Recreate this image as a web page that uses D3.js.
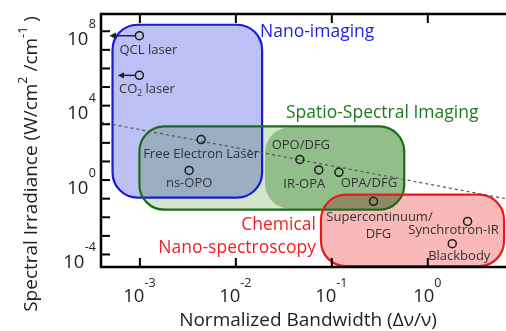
<!DOCTYPE html>
<html>
<head>
<meta charset="utf-8">
<script src="https://cdn.jsdelivr.net/npm/d3@7"></script>
<style>
body { margin: 0; background: #fff; }
text { font-family: "Open Sans", sans-serif; }
</style>
</head>
<body>
<svg id="chart" width="506" height="331"></svg>
<script>
// laser sources: bandwidth (dv/v) vs spectral irradiance (W/cm2/cm-1)
var sources = ["QCL laser", "CO2 laser", "Free Electron Laser", "ns-OPO", "OPO/DFG", "IR-OPA", "OPA/DFG", "Supercontinuum/|DFG", "Synchrotron-IR", "Blackbody"];
var bandwidth = [1e-3, 1e-3, 0.0044, 0.0033, 0.047, 0.074, 0.12, 0.275, 2.63, 1.82];
var irradiance = [5.4e7, 4e5, 141, 3.1, 12, 3.3, 2.45, 0.068, 0.0056, 3.6e-4];
// sources whose bandwidth is an upper bound (arrow to the left)
var arrowSources = ["QCL laser", "CO2 laser"];
var arrowEnd = [5e-4, 6.1e-4];

// application regions
var regionNames = ["Nano-imaging", "Spatio-Spectral Imaging", "spatio-dark", "Chemical Nano-spectroscopy"];
var regionX0 = [5.25e-4, 1e-3, 0.0204, 0.078];
var regionX1 = [0.019, 0.575, 0.575, 6.3];
var regionY0 = [0.107, 0.024, 0.027, 2.2e-5];
var regionY1 = [2.1e8, 724, 650, 0.155];

// dashed trend line
var trendX = [10 ** -3.4, 10 ** 0.82];
var trendY = [10 ** 3.08, 10 ** -1.03];

var xTickExp = [-3, -2, -1, 0];
var yTickExp = d3.range(-4, 9);
var yLabelExp = [-4, 0, 4, 8];

var svg = d3.select("#chart");
var plotLeft = 101, plotRight = 506, plotTop = 14, plotBottom = 267;

var x = d3.scaleLog().domain([10 ** -3.4, 10 ** 0.82]).range([plotLeft, plotRight]);
var y = d3.scaleLog().domain([10 ** -4.7, 10 ** 8.9]).range([plotBottom, plotTop]);

var regionFill = ["#bcc0f4", "#d3e6cc", "#b0d3ae", "#fab9b9"];
var regionStroke = ["#1b1bd3", "#1d6a1d", "none", "#ea1a1a"];

var defs = svg.append("defs");
defs.append("marker")
  .attr("id", "arrowhead")
  .attr("viewBox", "0 0 10 10")
  .attr("refX", 1).attr("refY", 5)
  .attr("markerWidth", 4.5).attr("markerHeight", 4.5)
  .attr("orient", "auto-start-reverse")
  .append("path")
  .attr("d", "M0,0 L10,5 L0,10 z")
  .attr("fill", "#222");

// region fills, multiplied so overlaps darken
var fills = svg.append("g").attr("class", "region-fills");
fills.selectAll("rect")
  .data(regionNames)
  .enter()
  .append("rect")
  .attr("x", function(d, i) { return x(regionX0[i]); })
  .attr("y", function(d, i) { return y(regionY1[i]); })
  .attr("width", function(d, i) { return x(regionX1[i]) - x(regionX0[i]); })
  .attr("height", function(d, i) { return y(regionY0[i]) - y(regionY1[i]); })
  .attr("rx", 25).attr("ry", 25)
  .attr("fill", function(d, i) { return regionFill[i]; })
  .style("mix-blend-mode", "multiply");

var strokes = svg.append("g").attr("class", "region-strokes");
strokes.selectAll("rect")
  .data(regionNames)
  .enter()
  .append("rect")
  .attr("x", function(d, i) { return x(regionX0[i]); })
  .attr("y", function(d, i) { return y(regionY1[i]); })
  .attr("width", function(d, i) { return x(regionX1[i]) - x(regionX0[i]); })
  .attr("height", function(d, i) { return y(regionY0[i]) - y(regionY1[i]); })
  .attr("rx", 25).attr("ry", 25)
  .attr("fill", "none")
  .attr("stroke", function(d, i) { return regionStroke[i]; })
  .attr("stroke-width", 2.2);

// trend line
svg.append("line")
  .attr("x1", x(trendX[0])).attr("y1", y(trendY[0]))
  .attr("x2", x(trendX[1])).attr("y2", y(trendY[1]))
  .attr("stroke", "#555")
  .attr("stroke-width", 1.2)
  .attr("stroke-dasharray", "3,3");

// region labels
var regionLabels = [
  {text: "Nano-imaging", x: 260, y: 37, anchor: "start", color: "#2323dc"},
  {text: "Spatio-Spectral Imaging", x: 286, y: 118, anchor: "start", color: "#1f7a1f"},
  {text: "Chemical", x: 316, y: 230, anchor: "end", color: "#f51e1e"},
  {text: "Nano-spectroscopy", x: 316, y: 253, anchor: "end", color: "#f51e1e"}
];
svg.append("g").selectAll("text")
  .data(regionLabels)
  .enter()
  .append("text")
  .attr("x", function(d) { return d.x; })
  .attr("y", function(d) { return d.y; })
  .attr("text-anchor", function(d) { return d.anchor; })
  .attr("fill", function(d) { return d.color; })
  .attr("font-size", "17.5px")
  .text(function(d) { return d.text; });

// arrows
svg.append("g").selectAll("line")
  .data(arrowSources)
  .enter()
  .append("line")
  .attr("x1", function(d) { return x(bandwidth[sources.indexOf(d)]) - 4; })
  .attr("x2", function(d, i) { return x(arrowEnd[i]) + 5; })
  .attr("y1", function(d) { return y(irradiance[sources.indexOf(d)]); })
  .attr("y2", function(d) { return y(irradiance[sources.indexOf(d)]); })
  .attr("stroke", "#222")
  .attr("stroke-width", 1.5)
  .attr("marker-end", "url(#arrowhead)");

// points
svg.append("g").selectAll("circle")
  .data(sources)
  .enter()
  .append("circle")
  .attr("cx", function(d, i) { return x(bandwidth[i]); })
  .attr("cy", function(d, i) { return y(irradiance[i]); })
  .attr("r", 4)
  .attr("fill", "none")
  .attr("stroke", "#1a1a1a")
  .attr("stroke-width", 1.5);

// point labels, offsets from the circle
var labelDx = [9, 7.5, 0, 0, 1, -14.5, 30, 6, -14, 7];
var labelDy = [18, 17.5, 18, 17, -10, 18, 15, 20, 12.5, 16];
var labels = svg.append("g").attr("class", "point-labels");
sources.forEach(function(name, i) {
  var t = labels.append("text")
    .attr("x", x(bandwidth[i]) + labelDx[i])
    .attr("y", y(irradiance[i]) + labelDy[i])
    .attr("text-anchor", "middle")
    .attr("font-size", "13px")
    .attr("fill", "#333");
  if (name == "CO2 laser") {
    t.append("tspan").text("CO");
    t.append("tspan").attr("font-size", "8.5px").attr("dy", 3).text("2");
    t.append("tspan").attr("dy", -3).text(" laser");
  } else if (name.indexOf("|") >= 0) {
    var parts = name.split("|");
    t.text(parts[0]);
    labels.append("text")
      .attr("x", x(bandwidth[i]) + labelDx[i] - 1)
      .attr("y", y(irradiance[i]) + labelDy[i] + 16.5)
      .attr("text-anchor", "middle")
      .attr("font-size", "13px")
      .attr("fill", "#333")
      .text(parts[1]);
  } else {
    t.text(name);
  }
});

// axes (ticks inward)
var xTicks = xTickExp.map(function(e) { return 10 ** e; });
var yTicks = yTickExp.map(function(e) { return 10 ** e; });

var xAxisB = svg.append("g")
  .attr("transform", "translate(0," + plotBottom + ")")
  .call(d3.axisBottom(x).tickValues(xTicks).tickSizeInner(-9).tickSizeOuter(0).tickFormat(""));
var xAxisT = svg.append("g")
  .attr("transform", "translate(0," + plotTop + ")")
  .call(d3.axisTop(x).tickValues(xTicks).tickSizeInner(-9).tickSizeOuter(0).tickFormat(""));
var yAxisL = svg.append("g")
  .attr("transform", "translate(" + plotLeft + ",0)")
  .call(d3.axisLeft(y).tickValues(yTicks).tickSizeInner(-9).tickSizeOuter(0).tickFormat(""));

[xAxisB, xAxisT, yAxisL].forEach(function(a) {
  a.select(".domain").attr("stroke", "#000").attr("stroke-width", 2.5);
  a.selectAll(".tick line").attr("stroke", "#000").attr("stroke-width", 2);
});
// make the frame corners meet
xAxisB.select(".domain").attr("d", "M" + (plotLeft - 1) + ",0H" + plotRight);
xAxisT.select(".domain").attr("d", "M" + (plotLeft - 1) + ",0H" + plotRight);
yAxisL.select(".domain").attr("d", "M0," + (plotTop - 1) + "V" + (plotBottom + 1));

// tick labels with superscripts
var xLab = svg.append("g").selectAll("text")
  .data(xTickExp)
  .enter()
  .append("text")
  .attr("x", function(d) { return x(10 ** d); })
  .attr("y", 302)
  .attr("text-anchor", "middle")
  .attr("font-size", "18.5px")
  .attr("fill", "#222");
xLab.append("tspan").text("10");
xLab.append("tspan").attr("dy", -15).attr("font-size", "12.5px").text(function(d) { return d; });

// y labels: base "10" right-aligned against its exponent, whole label ends at x=96
var yLabG = svg.append("g");
yLabelExp.forEach(function(e) {
  var ty = y(10 ** e);
  var sup = yLabG.append("text")
    .attr("y", ty - 3)
    .attr("font-size", "12.5px")
    .attr("fill", "#222")
    .text(e);
  var w = sup.node().getComputedTextLength();
  sup.attr("x", 96 - w);
  yLabG.append("text")
    .attr("x", 96 - w - 0.5)
    .attr("y", ty + 14)
    .attr("text-anchor", "end")
    .attr("font-size", "18.5px")
    .attr("fill", "#222")
    .text("10");
});

// axis titles
svg.append("text")
  .attr("x", 308)
  .attr("y", 326)
  .attr("text-anchor", "middle")
  .attr("font-size", "19px")
  .attr("fill", "#222")
  .text("Normalized Bandwidth (\u0394\u03bd/\u03bd)");

var yt = svg.append("text")
  .attr("transform", "translate(37,164) rotate(-90)")
  .attr("text-anchor", "middle")
  .attr("font-size", "19px")
  .attr("fill", "#222");
yt.append("tspan").text("Spectral Irradiance (W/cm");
yt.append("tspan").attr("dy", -10).attr("font-size", "12.5px").text("2");
yt.append("tspan").attr("dy", 10).text(" /cm");
yt.append("tspan").attr("dy", -10).attr("font-size", "12.5px").text("-1");
yt.append("tspan").attr("dy", 10).text(" )");
</script>
</body>
</html>
